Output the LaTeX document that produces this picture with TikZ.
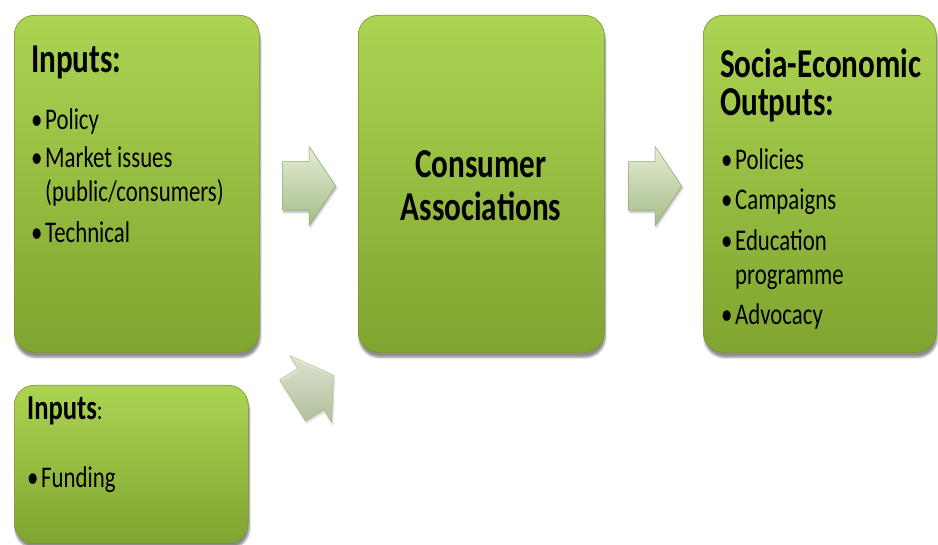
\documentclass[tikz,border=0pt]{standalone}
\usepackage{fontspec}
\setmainfont{Carlito}[FakeStretch=0.76]
\usetikzlibrary{shapes.arrows}
\usetikzlibrary{shadows.blur}

\definecolor{boxtop}{RGB}{172,212,82}
\definecolor{boxbot}{RGB}{128,164,48}
\definecolor{boxedge}{RGB}{116,150,42}
\definecolor{arrowtop}{RGB}{228,238,212}
\definecolor{arrowbot}{RGB}{166,188,136}
\definecolor{arrowedge}{RGB}{146,168,116}

\newcommand{\bul}{\makebox[14pt][l]{\textbullet}}

\tikzset{
  greenbox/.style={anchor=north west, rounded corners=20pt, draw=boxedge, line width=0.6pt,
    top color=boxtop, bottom color=boxbot, inner sep=0pt,
    blur shadow={shadow xshift=1pt, shadow yshift=-5pt, shadow blur steps=6, shadow opacity=45}},
  headtext/.style={anchor=base west, inner sep=0pt, align=left, font=\fontsize{41}{38}\bfseries\selectfont},
  itemtext/.style={anchor=base west, inner sep=0pt, align=left, font=\fontsize{30}{34}\selectfont},
  blockarrow/.style={single arrow, single arrow head extend=15pt, single arrow tip angle=112,
    minimum height=53pt, inner xsep=0pt, inner ysep=24pt, draw=arrowedge, line width=0.5pt,
    top color=arrowtop, bottom color=arrowbot,
    blur shadow={shadow xshift=1pt, shadow yshift=-2pt, shadow blur steps=4, shadow opacity=30}}
}

\begin{document}
\begin{tikzpicture}[x=1pt, y=-1pt]
  \useasboundingbox (0,0) rectangle (938,545);

  \node[greenbox, minimum width=245pt, minimum height=337pt] (inputs) at (14,15) {};
  \node[greenbox, minimum width=234pt, minimum height=158pt] (funding) at (14,385) {};
  \node[greenbox, minimum width=246pt, minimum height=337pt] (assoc) at (358,15) {};
  \node[greenbox, minimum width=233pt, minimum height=337pt] (outputs) at (703,15) {};

  \node[blockarrow] (arrowin) at (301,186) {};
  \node[blockarrow] (arrowout) at (647,186) {};
  \node[blockarrow, rotate=32, opacity=0.7, minimum height=48pt] (arrowfund) at (306,392) {};

  \node[headtext] (inputshead) at (31,73) {Inputs:};
  \node[itemtext] (policy) at (31,130) {\bul Policy};
  \node[itemtext] (market) at (31,202) {\bul Market issues\\\hspace*{14pt}(public/consumers)};
  \node[itemtext] (technical) at (31,243) {\bul Technical};

  \node[headtext, font=\fontsize{35}{38}\bfseries\selectfont] (fundhead) at (27,420) {Inputs\textmd{\fontsize{28}{30}\selectfont:}};
  \node[itemtext] (fundingitem) at (27,487) {\bul Funding};

  \node[headtext, anchor=base, align=center, font=\fontsize{41}{43}\bfseries\selectfont] (assoctext) at (481,221) {Consumer\\Associations};

  \node[headtext] (outhead) at (720,116) {Socia-Economic\\Outputs:};
  \node[itemtext] (policies) at (721,170) {\bul Policies};
  \node[itemtext] (campaigns) at (721,210) {\bul Campaigns};
  \node[itemtext] (education) at (721,285) {\bul Education\\\hspace*{14pt}programme};
  \node[itemtext] (advocacy) at (721,325) {\bul Advocacy};
\end{tikzpicture}
\end{document}
